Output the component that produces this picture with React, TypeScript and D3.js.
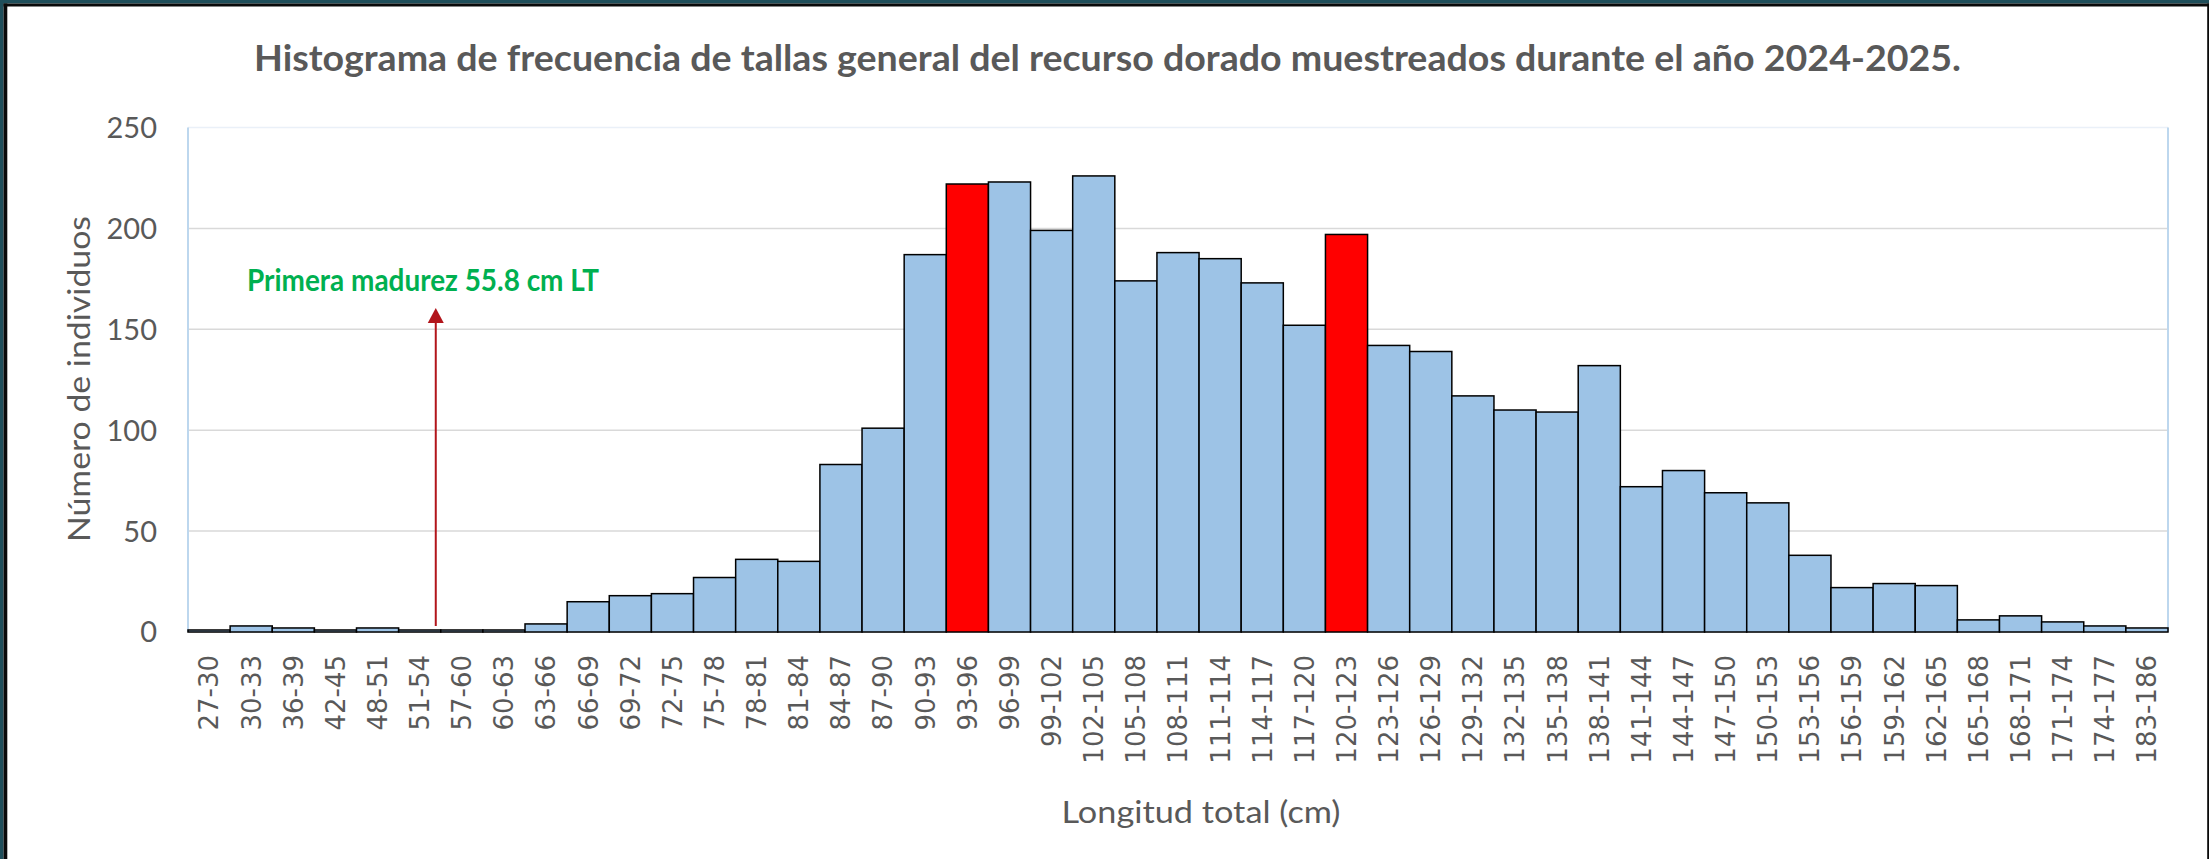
import React from "react";
import * as d3 from "d3";

const categories = [
  "27-30", "30-33", "36-39", "42-45", "48-51", "51-54", "57-60", "60-63", "63-66",
  "66-69", "69-72", "72-75", "75-78", "78-81", "81-84", "84-87", "87-90", "90-93",
  "93-96", "96-99", "99-102", "102-105", "105-108", "108-111", "111-114", "114-117",
  "117-120", "120-123", "123-126", "126-129", "129-132", "132-135", "135-138",
  "138-141", "141-144", "144-147", "147-150", "150-153", "153-156", "156-159",
  "159-162", "162-165", "165-168", "168-171", "171-174", "174-177", "183-186",
];

const counts = [
  1, 3, 2, 1, 2, 1, 1, 1, 4,
  15, 18, 19, 27, 36, 35, 83, 101, 187,
  222, 223, 199, 226, 174, 188, 185, 173,
  152, 197, 142, 139, 117, 110, 109,
  132, 72, 80, 69, 64, 38, 22,
  24, 23, 6, 8, 5, 3, 2,
];

const highlighted = ["93-96", "120-123"];
const yTicks = [0, 50, 100, 150, 200, 250];

const titleText =
  "Histograma de frecuencia de tallas general del recurso dorado muestreados durante el año 2024-2025.";
const yTitle = "Número de individuos";
const xTitle = "Longitud total (cm)";
const annotationText = "Primera madurez 55.8 cm LT";

const W = 2209;
const H = 859;
const plot = { left: 188, right: 2168, top: 127.5, bottom: 632 };

export default function App() {
  const x = d3
    .scaleBand<string>()
    .domain(categories)
    .range([plot.left, plot.right])
    .paddingInner(0)
    .paddingOuter(0);
  const y = d3.scaleLinear().domain([0, 250]).range([plot.bottom, plot.top]);

  const arrowX = (x("57-60") as number) - 5;
  const arrowBottom = y(3);
  const arrowTip = y(160.5);

  return (
    <svg
      width={W}
      height={H}
      style={{ position: "absolute", left: 0, top: 0, background: "#ffffff" }}
    >
      {/* frame */}
      <rect x={0} y={0} width={W} height={3.5} fill="#1f4e5a" />
      <rect x={0} y={0} width={3.5} height={H} fill="#1f4e5a" />
      <rect x={3.5} y={3.5} width={W - 3.5} height={3} fill="#0a0a0a" />
      <rect x={3.5} y={3.5} width={3.8} height={H - 3.5} fill="#0a0a0a" />
      <rect x={W - 1.8} y={3.5} width={1.8} height={H - 3.5} fill="#0a0a0a" />

      {/* title */}
      <text
        x={1107.5}
        y={71}
        textAnchor="middle"
        fontFamily="Lato, 'Open Sans', sans-serif"
        fontWeight="bold"
        fontSize={36}
        fill="#595959"
        textLength={1707}
        lengthAdjust="spacingAndGlyphs"
      >
        {titleText}
      </text>

      {/* gridlines */}
      {yTicks.map((t) => (
        <line
          key={"g" + t}
          x1={plot.left}
          x2={plot.right}
          y1={y(t)}
          y2={y(t)}
          stroke={t === 250 ? "#eaf0f8" : "#d9d9d9"}
          strokeWidth={1.5}
        />
      ))}
      {/* plot area side borders */}
      <line x1={plot.left} x2={plot.left} y1={plot.top} y2={plot.bottom} stroke="#bdd7ee" strokeWidth={2} />
      <line x1={plot.right} x2={plot.right} y1={plot.top} y2={plot.bottom} stroke="#bdd7ee" strokeWidth={2} />

      {/* y tick labels */}
      {yTicks.map((t) => (
        <text
          key={"yt" + t}
          x={157}
          y={y(t)}
          dy="0.36em"
          textAnchor="end"
          fontFamily="Lato, 'Open Sans', sans-serif"
          fontSize={29}
          fill="#595959"
        >
          {t}
        </text>
      ))}

      {/* bars */}
      {categories.map((c, i) => (
        <rect
          key={c}
          x={x(c) as number}
          y={y(counts[i])}
          width={x.bandwidth()}
          height={y(0) - y(counts[i])}
          fill={highlighted.includes(c) ? "#ff0000" : "#9dc3e6"}
          stroke="#000000"
          strokeWidth={1.5}
        />
      ))}

      {/* x tick labels */}
      {categories.map((c) => {
        const cx = (x(c) as number) + x.bandwidth() / 2;
        return (
          <text
            key={"xt" + c}
            transform={`translate(${cx},655) rotate(-90)`}
            dy="0.36em"
            textAnchor="end"
            fontFamily="'DejaVu Sans', sans-serif"
            fontSize={26}
            fill="#595959"
          >
            {c}
          </text>
        );
      })}

      {/* axis titles */}
      <text
        transform={`translate(90,379) rotate(-90)`}
        textAnchor="middle"
        fontFamily="Lato, 'Open Sans', sans-serif"
        fontSize={31}
        fill="#595959"
        textLength={326}
        lengthAdjust="spacingAndGlyphs"
      >
        {yTitle}
      </text>
      <text
        x={1201}
        y={823}
        textAnchor="middle"
        fontFamily="Lato, 'Open Sans', sans-serif"
        fontSize={31}
        fill="#595959"
        textLength={279}
        lengthAdjust="spacingAndGlyphs"
      >
        {xTitle}
      </text>

      {/* annotation */}
      <text
        x={247}
        y={291}
        fontFamily="Lato, 'Open Sans', sans-serif"
        fontWeight="bold"
        fontSize={30}
        fill="#00b050"
        textLength={352}
        lengthAdjust="spacingAndGlyphs"
      >
        {annotationText}
      </text>
      <line
        x1={arrowX}
        x2={arrowX}
        y1={arrowBottom}
        y2={arrowTip + 12}
        stroke="#b2151b"
        strokeWidth={2}
      />
      <path
        d={`M${arrowX},${arrowTip} L${arrowX - 8},${arrowTip + 15} L${arrowX + 8},${arrowTip + 15} Z`}
        fill="#b2151b"
      />
    </svg>
  );
}
